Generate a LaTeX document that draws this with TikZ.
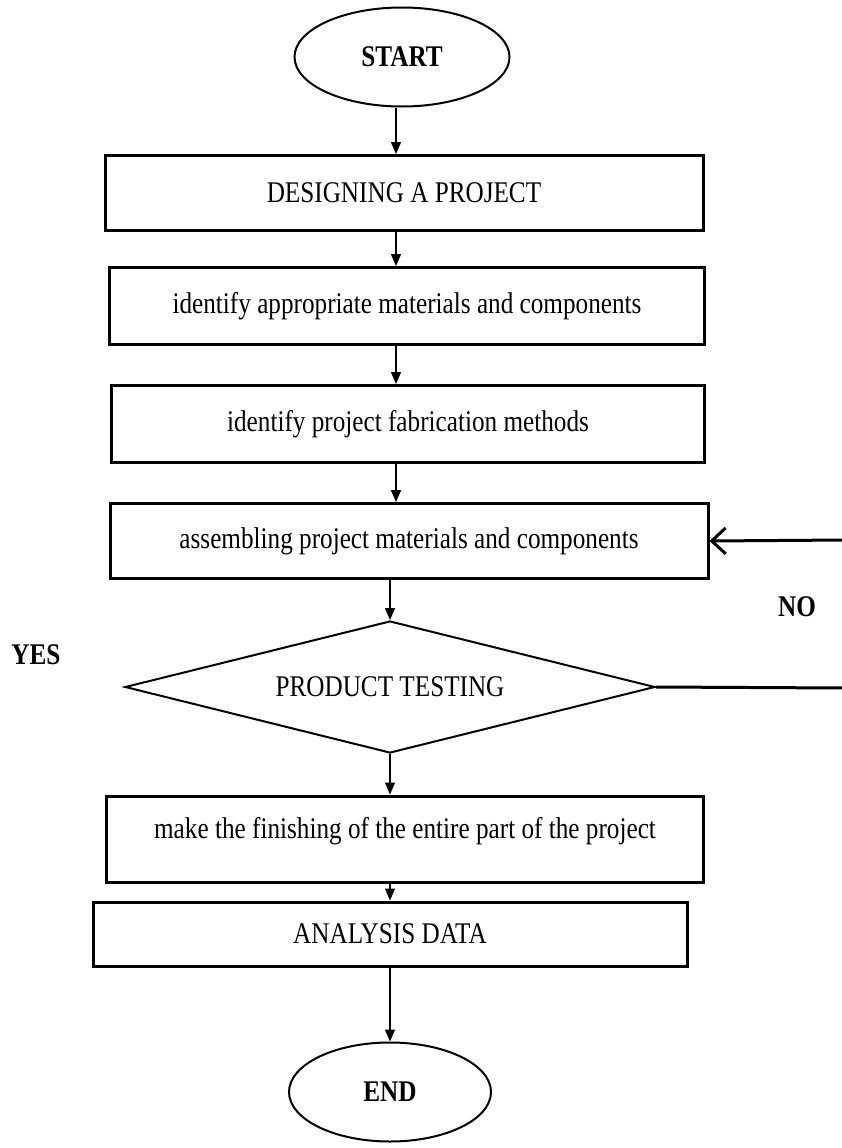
\documentclass[tikz,border=0pt]{standalone}
\usepackage{fontspec}
\setmainfont[FakeStretch=0.84]{Liberation Serif}
\usepackage{tikz}
\usetikzlibrary{shapes.geometric, arrows.meta, positioning, calc}
\tikzset{
    % Box styles - plain black outlines
    terminal/.style={
        ellipse,
        draw=black,
        line width=2pt,
        minimum width=215pt,
        minimum height=99pt,
        font=\fontsize{30}{36}\selectfont\bfseries
    },
    stepbox/.style={
        rectangle,
        draw=black,
        line width=3pt,
        minimum width=595pt,
        minimum height=77pt,
        align=center,
        font=\fontsize{30}{36}\selectfont
    },
    decision/.style={
        diamond,
        draw=black,
        line width=2pt,
        minimum width=530pt,
        minimum height=132pt,
        inner sep=0pt,
        aspect=4,
        align=center,
        font=\fontsize{30}{36}\selectfont
    },
    answer/.style={
        font=\fontsize{30}{36}\selectfont\bfseries
    },
    % Arrow styles - straight lines only
    arrow/.style={
        -{Triangle[length=12pt,width=10pt]},
        line width=1.5pt,
        draw=black
    },
    loopline/.style={
        line width=3pt,
        draw=black
    },
    looparrow/.style={
        -{Straight Barb[length=14pt,width=26pt]},
        line width=3pt,
        draw=black
    }
}
\begin{document}
\begin{tikzpicture}[x=1pt, y=-1pt]
    \useasboundingbox (0,0) rectangle (841,1148);
    \coordinate (axis) at (396,0);

    \node[terminal] (start) at (402,57) {START};

    \node[stepbox, minimum width=598pt, minimum height=75pt] (design) at (404,193) {DESIGNING A PROJECT};

    \node[stepbox] (materials) at (407,306) {identify appropriate materials and components};

    \node[stepbox, minimum width=593pt] (methods) at (408,424) {identify project fabrication methods};

    \node[stepbox, minimum width=598pt, minimum height=75pt] (assemble) at (409,541) {assembling project materials and components};

    \node[decision] (testing) at (390,687) {PRODUCT TESTING};

    \node[stepbox, minimum width=597pt, minimum height=86pt, text depth=22pt] (finish) at (405,839) {make the finishing of the entire part of the project};

    \node[stepbox, minimum width=594pt, minimum height=64pt] (analysis) at (390,934) {ANALYSIS DATA};

    \node[terminal, minimum width=202pt, minimum height=99pt] (end) at (390,1092) {END};

    \node[answer] (yes) at (36,655) {YES};
    \node[answer] (no) at (797,607) {NO};

    \coordinate (loopin) at (845,540);
    \coordinate (loopout) at (845,688);

    \draw[arrow] (start.south -| axis) -- (design.north -| axis);
    \draw[arrow] (design.south -| axis) -- (materials.north -| axis);
    \draw[arrow] (materials.south -| axis) -- (methods.north -| axis);
    \draw[arrow] (methods.south -| axis) -- (assemble.north -| axis);
    \draw[arrow] (assemble.south -| testing) -- (testing.north);
    \draw[arrow] (testing.south) -- (finish.north -| testing);
    \draw[arrow] (finish.south -| analysis) -- (analysis.north);
    \draw[arrow] (analysis.south) -- (end.north);

    \draw[loopline] (testing.east) -- (loopout);
    \draw[looparrow] (loopin) -- (assemble.east);
\end{tikzpicture}
\end{document}
